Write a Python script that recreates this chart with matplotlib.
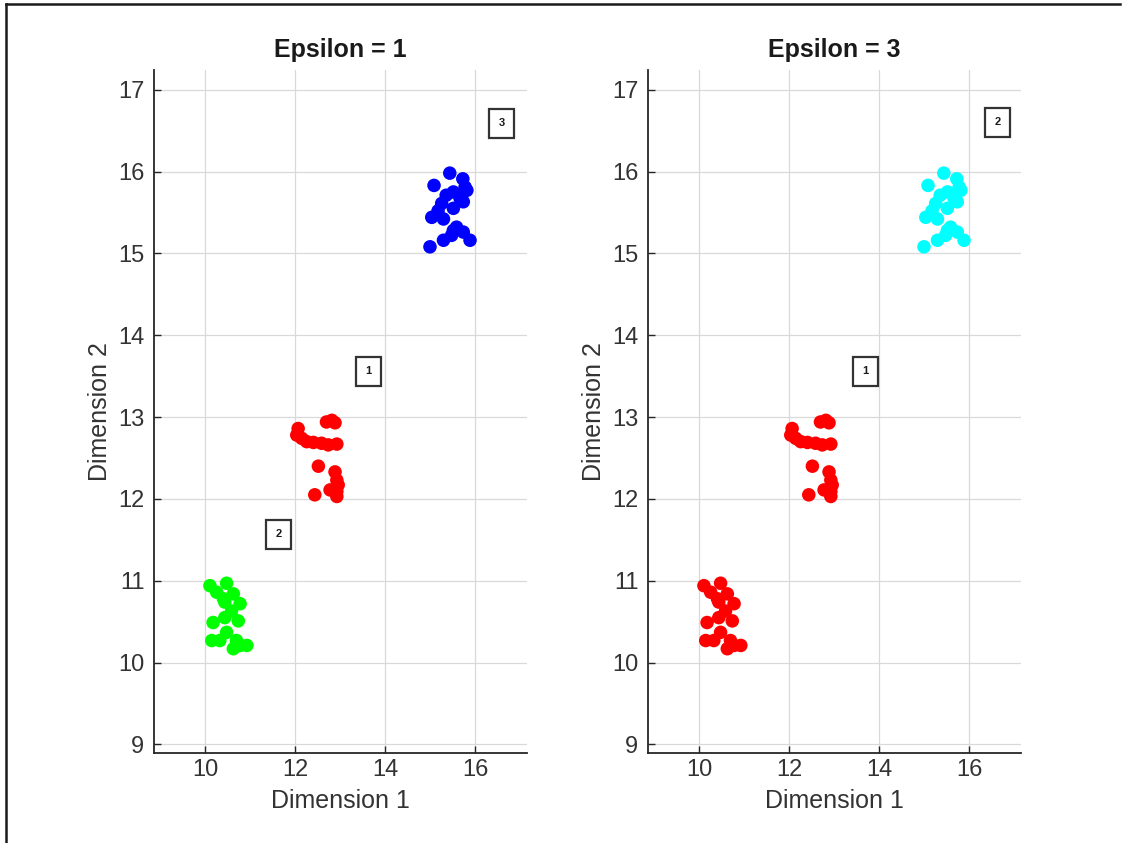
import matplotlib
matplotlib.use("Agg")
import matplotlib.pyplot as plt
from matplotlib.lines import Line2D

plt.rcParams['font.family'] = ['Liberation Sans', 'DejaVu Sans']

# Cluster data (Dimension 1, Dimension 2)
cluster_a_x = [10.11, 10.48, 10.26, 10.41, 10.63, 10.44, 10.78, 10.59, 10.44, 10.18,
               10.74, 10.48, 10.15, 10.33, 10.70, 10.78, 10.63, 10.93]
cluster_a_y = [10.94, 10.97, 10.86, 10.78, 10.84, 10.74, 10.72, 10.63, 10.55, 10.49,
               10.51, 10.37, 10.27, 10.27, 10.27, 10.21, 10.17, 10.21]

cluster_b_x = [12.82, 12.89, 12.70, 12.07, 12.04, 12.15, 12.26, 12.41, 12.59, 12.74,
               12.93, 12.52, 12.89, 12.93, 12.96, 12.78, 12.93, 12.44, 12.93]
cluster_b_y = [12.96, 12.93, 12.94, 12.86, 12.78, 12.74, 12.70, 12.69, 12.68, 12.66,
               12.67, 12.40, 12.33, 12.23, 12.17, 12.11, 12.09, 12.05, 12.03]

cluster_c_x = [15.44, 15.73, 15.09, 15.78, 15.82, 15.52, 15.36, 15.67, 15.74, 15.26,
               15.52, 15.18, 15.04, 15.30, 15.59, 15.52, 15.74, 15.30, 15.89, 15.00, 15.48]
cluster_c_y = [15.98, 15.91, 15.83, 15.81, 15.77, 15.75, 15.71, 15.67, 15.63, 15.61,
               15.55, 15.52, 15.44, 15.42, 15.32, 15.28, 15.26, 15.16, 15.16, 15.08, 15.22]

titles = ["Epsilon = 1", "Epsilon = 3"]
colors_eps1 = ["#00ff00", "#ff0000", "#0000ff"]
colors_eps3 = ["#ff0000", "#ff0000", "#00ffff"]

labels_eps1 = ["2", "1", "3"]
label_x_eps1 = [11.64, 13.64, 16.60]
label_y_eps1 = [11.57, 13.56, 16.59]
labels_eps3 = ["1", "2"]
label_x_eps3 = [13.69, 16.64]
label_y_eps3 = [13.56, 16.60]

xticks = [10, 12, 14, 16]
yticks = [9, 10, 11, 12, 13, 14, 15, 16, 17]

W, H = 1122, 843
fig = plt.figure(figsize=(W / 100, H / 100), dpi=100)

clusters = [(cluster_a_x, cluster_a_y), (cluster_b_x, cluster_b_y), (cluster_c_x, cluster_c_y)]
panel_colors = [colors_eps1, colors_eps3]
panel_labels = [(labels_eps1, label_x_eps1, label_y_eps1),
                (labels_eps3, label_x_eps3, label_y_eps3)]
lefts_px = [154, 648]

for i in range(2):
    ax = fig.add_axes([lefts_px[i] / W, 90 / H, 373 / W, 683 / H])
    for (cx, cy), col in zip(clusters, panel_colors[i]):
        ax.scatter(cx, cy, s=95, color=col, edgecolors='none', zorder=3)
    labs, lx, ly = panel_labels[i]
    for t, x, y in zip(labs, lx, ly):
        ax.text(x, y, t, ha='center', va='center', fontsize=8, fontweight='bold',
                color='#1a1a1a', zorder=4,
                bbox=dict(boxstyle='square,pad=0.85', facecolor='white',
                          edgecolor='#333333', linewidth=1.6))
    ax.set_xlim(8.867, 17.156)
    ax.set_ylim(8.896, 17.24)
    ax.set_xticks(xticks)
    ax.set_yticks(yticks)
    ax.grid(True, color='#d9d9d9', linewidth=0.9)
    ax.set_axisbelow(True)
    for side in ['top', 'right']:
        ax.spines[side].set_visible(False)
    for side in ['left', 'bottom']:
        ax.spines[side].set_color('#262626')
        ax.spines[side].set_linewidth(1.3)
    ax.tick_params(direction='in', length=5, width=1.0, colors='#262626',
                   labelsize=17, labelcolor='#333333', pad=7)
    ax.tick_params(axis='x', pad=4)
    ax.set_xlabel("Dimension 1", fontsize=18, color='#333333', labelpad=6)
    ax.set_ylabel("Dimension 2", fontsize=18, color='#333333', labelpad=4)
    ax.set_title(titles[i], fontsize=18, fontweight='bold', color='#1a1a1a', pad=9)

# screenshot frame (top and left edges)
fig.add_artist(Line2D([6 / W, 1120 / W], [1 - 4 / H, 1 - 4 / H], color='#1a1a1a', linewidth=1.8))
fig.add_artist(Line2D([6 / W, 6 / W], [0, 1 - 4 / H], color='#1a1a1a', linewidth=1.8))

fig.savefig("out.png", dpi=100, facecolor='white')
